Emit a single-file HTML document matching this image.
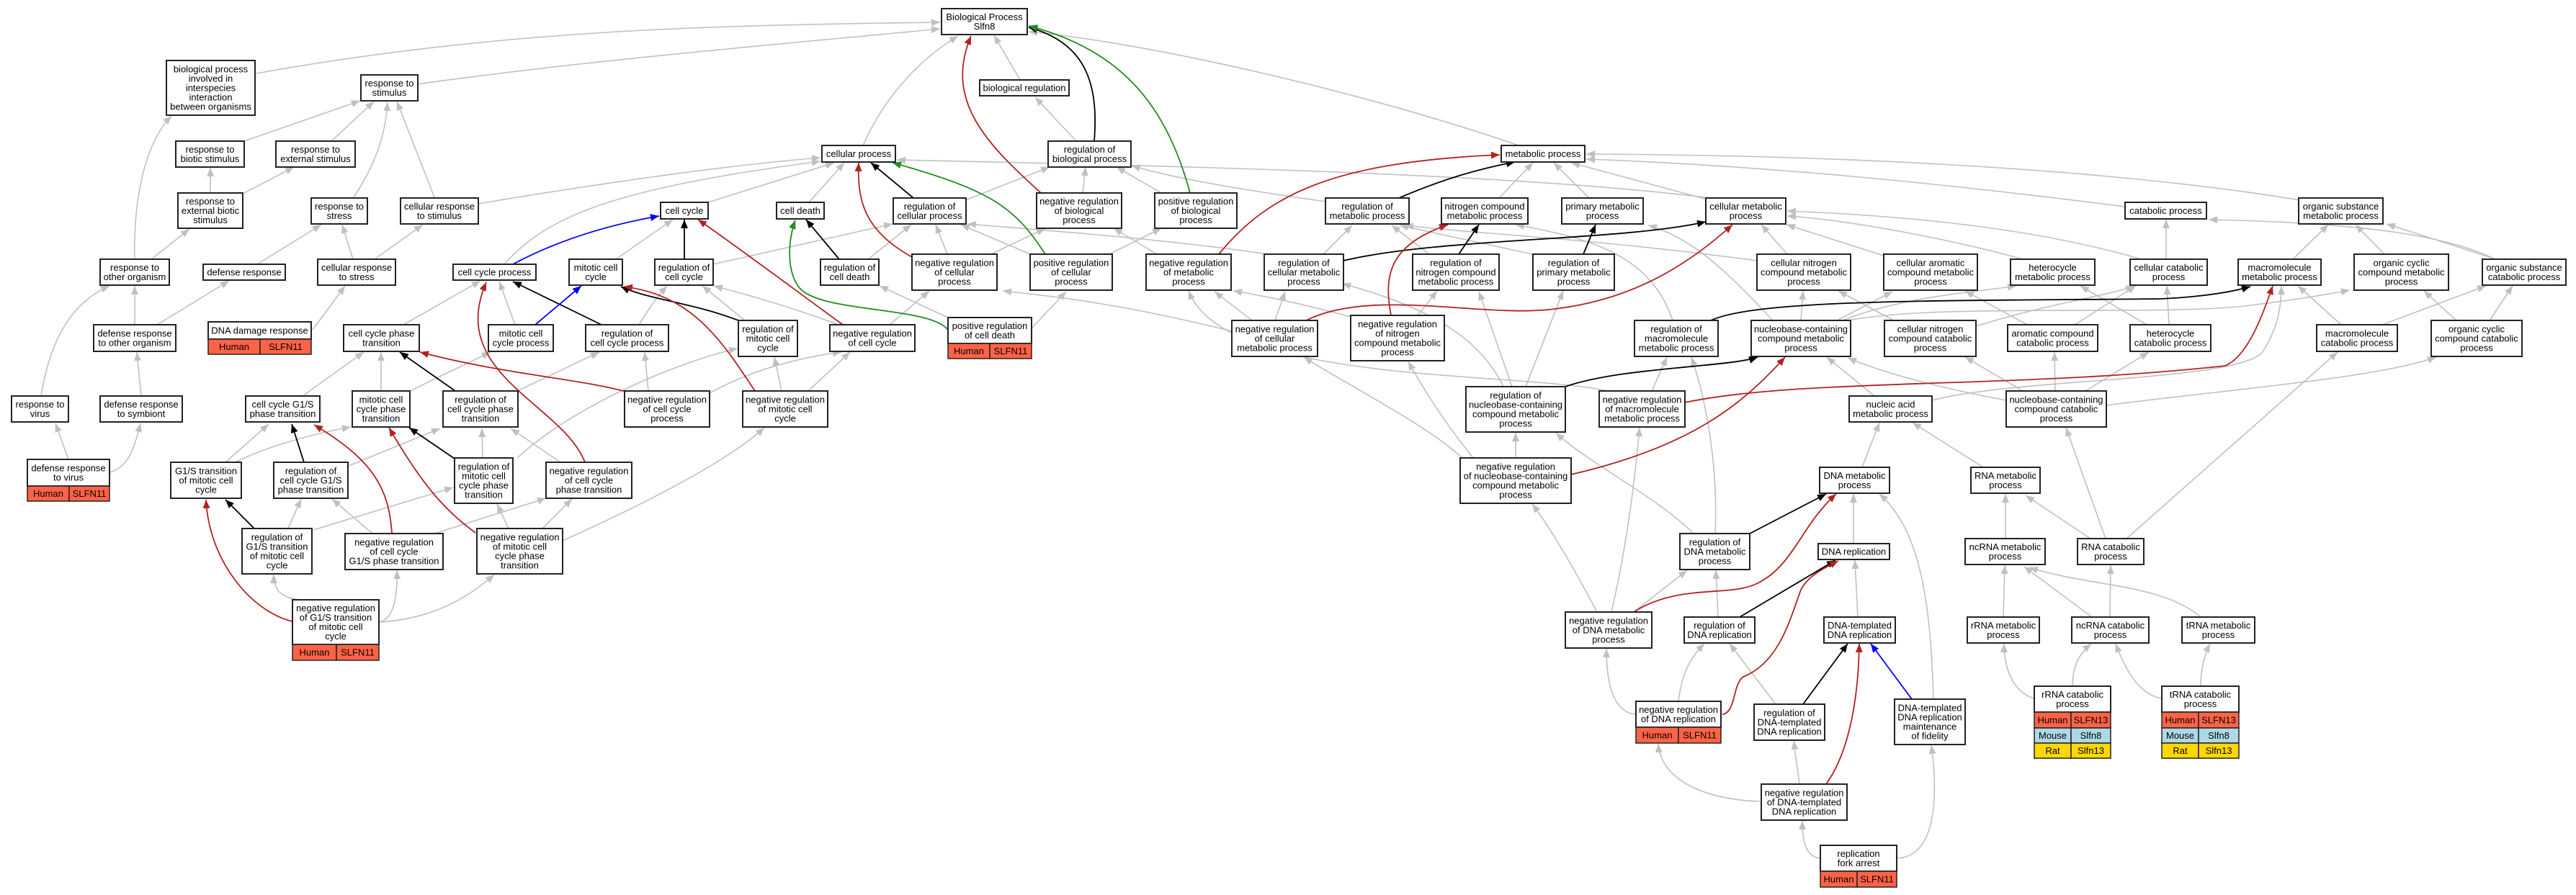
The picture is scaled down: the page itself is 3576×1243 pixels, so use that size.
<!DOCTYPE html>
<html><head><meta charset="utf-8"><style>
html,body{margin:0;padding:0;background:#fff;}
svg{display:block;}
text{font-family:"Liberation Sans",Arial,sans-serif;font-size:13px;fill:#000;text-anchor:middle;}
.e{fill:none;stroke:#c0c0c0;stroke-width:1.6;}
.k{fill:none;stroke:#000;stroke-width:1.8;}
.r{fill:none;stroke:#b22222;stroke-width:1.8;}
.n{fill:none;stroke:#228b22;stroke-width:1.8;}
.b{fill:none;stroke:#0000ff;stroke-width:1.8;}
.nd{fill:#fff;stroke:#222;stroke-width:2;}
.hu{fill:#ff6347;stroke:#222;stroke-width:1.5;}
.mo{fill:#add8e6;stroke:#222;stroke-width:1.5;}
.ra{fill:#ffd700;stroke:#222;stroke-width:1.5;}
</style></head><body>
<svg width="3576" height="1243" viewBox="0 0 3576 1243" xmlns="http://www.w3.org/2000/svg">
<defs>
<marker id="mg" viewBox="0 0 12 10" refX="12" refY="5" markerWidth="12" markerHeight="10" markerUnits="userSpaceOnUse" orient="auto"><path d="M0,0L12,5L0,10z" fill="#c0c0c0"/></marker>
<marker id="mk" viewBox="0 0 12 10" refX="12" refY="5" markerWidth="12" markerHeight="10" markerUnits="userSpaceOnUse" orient="auto"><path d="M0,0L12,5L0,10z" fill="#000"/></marker>
<marker id="mr" viewBox="0 0 12 10" refX="12" refY="5" markerWidth="12" markerHeight="10" markerUnits="userSpaceOnUse" orient="auto"><path d="M0,0L12,5L0,10z" fill="#b22222"/></marker>
<marker id="mn" viewBox="0 0 12 10" refX="12" refY="5" markerWidth="12" markerHeight="10" markerUnits="userSpaceOnUse" orient="auto"><path d="M0,0L12,5L0,10z" fill="#228b22"/></marker>
<marker id="mb" viewBox="0 0 12 10" refX="12" refY="5" markerWidth="12" markerHeight="10" markerUnits="userSpaceOnUse" orient="auto"><path d="M0,0L12,5L0,10z" fill="#0000ff"/></marker>
</defs>

<!-- gray edges -->
<g class="e" marker-end="url(#mg)">
<path d="M356,102 C700,40 1000,35 1305,31"/>
<path d="M580,117 C800,85 1100,60 1305,40"/>
<path d="M339,196 L500,140"/>
<path d="M460,196 L519,141"/>
<path d="M491,274 C520,230 535,190 538,142"/>
<path d="M603,274 L551,141"/>
<path d="M292,268 L292,233"/>
<path d="M339,268 L408,232"/>
<path d="M187,360 C185,280 200,200 238,161"/>
<path d="M210,360 L263,318"/>
<path d="M357,367 L446,312"/>
<path d="M490,360 L475,312"/>
<path d="M520,360 L587,312"/>
<path d="M664,283 C800,260 1000,230 1139,219"/>
<path d="M700,367 C760,300 850,262 1139,224"/>
<path d="M855,360 L934,305"/>
<path d="M560,451 L667,390"/>
<path d="M715,451 L693,391"/>
<path d="M420,550 L505,489"/>
<path d="M529,543 L529,489"/>
<path d="M569,543 L681,489"/>
<path d="M718,543 L832,489"/>
<path d="M887,451 C900,430 910,415 926,397"/>
<path d="M900,543 L895,489"/>
<path d="M985,546 C1050,510 1120,495 1168,489"/>
<path d="M718,636 C800,560 950,500 1024,484"/>
<path d="M781,751 C850,720 1000,650 1061,594"/>
<path d="M1198,202 C1230,130 1280,80 1330,50"/>
<path d="M1416,111 L1380,49"/>
<path d="M2108,202 C1900,130 1600,60 1428,44"/>
<path d="M1494,196 L1437,135"/>
<path d="M983,281 L1158,226"/>
<path d="M1123,281 L1172,226"/>
<path d="M2374,275 C2100,240 1600,230 1245,222"/>
<path d="M990,367 L1239,311"/>
<path d="M1205,360 L1265,312"/>
<path d="M1315,353 L1299,312"/>
<path d="M1430,353 L1334,312"/>
<path d="M1340,278 L1457,232"/>
<path d="M1503,268 L1507,232"/>
<path d="M1612,268 L1550,232"/>
<path d="M1840,280 C1700,260 1620,245 1571,230"/>
<path d="M1376,353 L1451,317"/>
<path d="M1606,353 L1546,317"/>
<path d="M1540,353 L1612,317"/>
<path d="M1760,353 C1600,330 1450,320 1343,311"/>
<path d="M1034,445 L975,397"/>
<path d="M1164,451 C1080,420 1020,405 991,397"/>
<path d="M1085,543 L1075,496"/>
<path d="M1122,543 L1180,489"/>
<path d="M1235,451 L1290,404"/>
<path d="M1710,460 C1550,420 1450,410 1392,404"/>
<path d="M1432,456 L1480,405"/>
<path d="M1316,441 L1221,397"/>
<path d="M2233,543 C2100,515 1700,535 1650,404"/>
<path d="M1738,445 L1686,405"/>
<path d="M1875,440 C1800,420 1750,410 1712,404"/>
<path d="M1770,445 L1784,405"/>
<path d="M2081,275 L2128,226"/>
<path d="M2206,275 L2157,226"/>
<path d="M2370,277 L2181,226"/>
<path d="M3193,278 C2900,230 2500,215 2202,214"/>
<path d="M2950,287 C2700,255 2450,230 2202,221"/>
<path d="M2481,353 L2445,312"/>
<path d="M2615,355 L2480,312"/>
<path d="M2808,360 C2700,330 2560,305 2481,300"/>
<path d="M2969,359 C2800,310 2600,298 2481,293"/>
<path d="M1984,353 L1932,313"/>
<path d="M2127,353 L1943,313"/>
<path d="M1837,353 L1877,313"/>
<path d="M2322,445 C2290,350 2200,330 2104,312"/>
<path d="M2439,362 C2200,330 2050,325 1950,313"/>
<path d="M2099,537 L2053,405"/>
<path d="M1968,438 L1995,404"/>
<path d="M2118,537 L2170,404"/>
<path d="M2087,537 C2060,480 2000,430 1863,394"/>
<path d="M2602,550 L2536,496"/>
<path d="M2293,543 L2314,496"/>
<path d="M2381,741 C2385,650 2370,560 2348,496"/>
<path d="M2500,445 L2503,404"/>
<path d="M2552,444 L2627,405"/>
<path d="M2627,444 L2552,404"/>
<path d="M2460,444 C2400,380 2350,330 2288,313"/>
<path d="M2585,649 L2609,587"/>
<path d="M2753,649 L2655,587"/>
<path d="M3007,360 L3007,305"/>
<path d="M3462,359 C3400,330 3300,310 3066,305"/>
<path d="M3183,360 L3232,312"/>
<path d="M3310,353 L3270,312"/>
<path d="M3462,359 L3313,311"/>
<path d="M2560,444 C2650,410 2750,405 2799,397"/>
<path d="M2980,451 L2888,397"/>
<path d="M3011,451 L3008,397"/>
<path d="M2880,451 L2965,397"/>
<path d="M2743,453 C2850,420 2930,410 2963,397"/>
<path d="M3250,451 L3190,397"/>
<path d="M2682,556 C2800,525 3100,530 3140,490 C3160,460 3167,430 3167,397"/>
<path d="M2565,445 C2700,420 3000,440 3124,424 C3200,415 3240,407 3262,403"/>
<path d="M3410,445 L3365,404"/>
<path d="M3307,451 L3451,397"/>
<path d="M3456,445 L3488,397"/>
<path d="M2808,543 L2728,496"/>
<path d="M2853,543 L2852,489"/>
<path d="M2895,543 L2983,489"/>
<path d="M2814,451 L2728,404"/>
<path d="M2924,563 C3100,540 3300,525 3382,496"/>
<path d="M2785,556 C2700,540 2620,520 2565,497"/>
<path d="M2952,748 L3245,489"/>
<path d="M2923,748 L2868,594"/>
<path d="M2784,748 L2784,686"/>
<path d="M2902,748 L2812,688"/>
<path d="M2781,857 L2783,785"/>
<path d="M2904,857 L2810,787"/>
<path d="M3055,857 C3000,810 2900,815 2817,788"/>
<path d="M2929,857 L2930,785"/>
<path d="M2824,970 C2790,960 2782,920 2782,894"/>
<path d="M2877,953 C2877,920 2890,905 2903,894"/>
<path d="M3001,970 C2970,965 2950,930 2937,894"/>
<path d="M3055,953 C3055,930 3060,910 3068,894"/>
<path d="M2104,636 L2104,601"/>
<path d="M2045,636 C2000,580 1970,530 1955,502"/>
<path d="M2030,636 C1980,590 1880,540 1810,496"/>
<path d="M2573,755 L2573,686"/>
<path d="M2684,970 C2680,850 2670,740 2609,686"/>
<path d="M2268,850 L2342,792"/>
<path d="M2385,857 L2382,792"/>
<path d="M2351,741 C2300,690 2200,640 2160,601"/>
<path d="M2217,850 C2180,780 2150,730 2127,700"/>
<path d="M2237,850 C2260,750 2270,660 2276,594"/>
<path d="M2579,857 L2575,778"/>
<path d="M2330,974 C2335,930 2350,910 2366,894"/>
<path d="M2465,978 L2401,894"/>
<path d="M2271,992 C2240,990 2230,950 2230,901"/>
<path d="M2443,1113 C2360,1110 2305,1080 2302,1033"/>
<path d="M2498,1089 L2490,1029"/>
<path d="M2527,1192 C2505,1190 2502,1165 2502,1140"/>
<path d="M2633,1192 C2690,1190 2690,1100 2681,1035"/>
<path d="M95,638 L77,588"/>
<path d="M152,656 C175,650 185,630 195,588"/>
<path d="M57,550 C70,470 100,420 152,397"/>
<path d="M196,550 L190,489"/>
<path d="M187,451 L187,397"/>
<path d="M218,451 L318,390"/>
<path d="M434,458 L479,397"/>
<path d="M313,642 L373,589"/>
<path d="M327,642 C360,625 420,605 487,593"/>
<path d="M484,647 L611,595"/>
<path d="M670,636 L669,595"/>
<path d="M778,642 L709,595"/>
<path d="M400,734 L418,693"/>
<path d="M517,741 L461,693"/>
<path d="M435,736 L629,677"/>
<path d="M706,734 L690,700"/>
<path d="M603,741 L758,692"/>
<path d="M753,734 L794,693"/>
<path d="M416,833 C390,830 380,820 380,798"/>
<path d="M526,864 C545,860 552,835 551,792"/>
<path d="M526,864 C600,860 650,830 686,798"/>
</g>

<!-- black edges -->
<g class="k" marker-end="url(#mk)">
<path d="M1025,445 C960,420 900,416 862,398"/>
<path d="M835,451 L712,391"/>
<path d="M632,543 L555,489"/>
<path d="M1519,196 C1525,120 1510,60 1428,38"/>
<path d="M1268,275 L1209,226"/>
<path d="M950,360 L950,305"/>
<path d="M1165,360 L1119,305"/>
<path d="M1942,275 C2000,250 2050,235 2103,225"/>
<path d="M2025,353 L2053,312"/>
<path d="M2198,353 L2215,312"/>
<path d="M1865,362 C2000,330 2250,335 2368,308"/>
<path d="M2173,537 C2250,510 2400,510 2440,496"/>
<path d="M2375,445 C2440,415 2700,418 3000,415 C3060,412 3100,405 3124,398"/>
<path d="M2429,741 L2535,686"/>
<path d="M2415,857 L2548,778"/>
<path d="M2503,978 L2565,894"/>
<path d="M353,734 L313,694"/>
<path d="M422,642 L405,589"/>
<path d="M631,637 L568,594"/>
</g>

<!-- red edges -->
<g class="r" marker-end="url(#mr)">
<path d="M1048,543 C1000,470 960,410 866,398"/>
<path d="M812,642 C780,560 620,520 675,392"/>
<path d="M873,545 C800,525 700,520 583,489"/>
<path d="M1445,268 C1370,200 1310,140 1348,50"/>
<path d="M1266,357 C1200,320 1190,280 1192,226"/>
<path d="M1170,451 C1100,400 1020,340 969,305"/>
<path d="M1692,353 C1760,270 1850,225 2082,215"/>
<path d="M1931,438 C1920,380 1930,340 2010,312"/>
<path d="M1811,446 C1900,400 2050,440 2150,430 C2250,420 2330,380 2405,312"/>
<path d="M2181,659 C2350,620 2420,560 2478,496"/>
<path d="M2339,559 C2500,525 2800,540 3089,508 C3120,495 3140,440 3155,397"/>
<path d="M2268,850 C2330,810 2400,830 2440,810 C2490,785 2500,730 2549,686"/>
<path d="M2391,992 C2410,990 2405,950 2420,940 C2470,920 2485,860 2500,819 C2510,800 2530,790 2552,779"/>
<path d="M2535,1089 C2570,1040 2580,960 2581,894"/>
<path d="M544,741 C540,680 520,640 436,590"/>
<path d="M660,740 C620,710 590,680 540,594"/>
<path d="M406,863 C350,850 290,780 286,694"/>
</g>

<!-- green edges -->
<g class="n" marker-end="url(#mn)">
<path d="M1652,268 C1620,150 1560,70 1428,36"/>
<path d="M1451,353 C1410,290 1380,265 1239,226"/>
<path d="M1316,458 C1290,425 1140,435 1110,400 C1090,375 1095,330 1104,306"/>
</g>

<!-- blue edges -->
<g class="b" marker-end="url(#mb)">
<path d="M712,367 Q800,320 915,300"/>
<path d="M743,451 L807,397"/>
<path d="M2654,971 L2597,894"/>
</g>

<!-- nodes -->
<g>
<rect class="nd" x="1307" y="12" width="119" height="36"/><text x="1366.5" y="28">Biological Process<tspan x="1366.5" dy="13">Slfn8</tspan></text>
<rect class="nd" x="231" y="84" width="123" height="76"/><text x="292.5" y="100.5">biological process<tspan x="292.5" dy="13">involved in</tspan><tspan x="292.5" dy="13">interspecies</tspan><tspan x="292.5" dy="13">interaction</tspan><tspan x="292.5" dy="13">between organisms</tspan></text>
<rect class="nd" x="501" y="104" width="79" height="36"/><text x="540.5" y="120">response to<tspan x="540.5" dy="13">stimulus</tspan></text>
<rect class="nd" x="244" y="196" width="95" height="36"/><text x="291.5" y="212">response to<tspan x="291.5" dy="13">biotic stimulus</tspan></text>
<rect class="nd" x="383" y="196" width="110" height="36"/><text x="438" y="212">response to<tspan x="438" dy="13">external stimulus</tspan></text>
<rect class="nd" x="247" y="268" width="90" height="49"/><text x="292" y="284">response to<tspan x="292" dy="13">external biotic</tspan><tspan x="292" dy="13">stimulus</tspan></text>
<rect class="nd" x="432" y="275" width="78" height="36"/><text x="471" y="291">response to<tspan x="471" dy="13">stress</tspan></text>
<rect class="nd" x="556" y="275" width="108" height="36"/><text x="610" y="291">cellular response<tspan x="610" dy="13">to stimulus</tspan></text>
<rect class="nd" x="139" y="360" width="96" height="36"/><text x="187" y="376">response to<tspan x="187" dy="13">other organism</tspan></text>
<rect class="nd" x="282" y="367" width="114" height="22"/><text x="339" y="382.5">defense response</text>
<rect class="nd" x="441" y="360" width="108" height="36"/><text x="495" y="376">cellular response<tspan x="495" dy="13">to stress</tspan></text>
<rect class="nd" x="629" y="367" width="115" height="22"/><text x="686.5" y="382.5">cell cycle process</text>
<rect class="nd" x="790" y="360" width="74" height="36"/><text x="827" y="376">mitotic cell<tspan x="827" dy="13">cycle</tspan></text>
<rect class="nd" x="130" y="451" width="114" height="37"/><text x="187" y="467.5">defense response<tspan x="187" dy="13">to other organism</tspan></text>

<rect class="nd" x="289" y="447" width="143" height="24"/><text x="360.5" y="463.5">DNA damage response</text>
<rect class="hu" x="289" y="471" width="72" height="21"/><rect class="hu" x="361" y="471" width="71" height="21"/><text x="325" y="486">Human</text><text x="396.5" y="486">SLFN11</text>

<rect class="nd" x="477" y="451" width="105" height="37"/><text x="529.5" y="467.5">cell cycle phase<tspan x="529.5" dy="13">transition</tspan></text>
<rect class="nd" x="678" y="451" width="90" height="37"/><text x="723" y="467.5">mitotic cell<tspan x="723" dy="13">cycle process</tspan></text>
<rect class="nd" x="813" y="451" width="115" height="37"/><text x="870.5" y="467.5">regulation of<tspan x="870.5" dy="13">cell cycle process</tspan></text>
<rect class="nd" x="16" y="550" width="79" height="36"/><text x="55.5" y="566">response to<tspan x="55.5" dy="13">virus</tspan></text>
<rect class="nd" x="139" y="550" width="114" height="36"/><text x="196" y="566">defense response<tspan x="196" dy="13">to symbiont</tspan></text>
<rect class="nd" x="341" y="550" width="103" height="36"/><text x="392.5" y="566">cell cycle G1/S<tspan x="392.5" dy="13">phase transition</tspan></text>
<rect class="nd" x="489" y="543" width="80" height="50"/><text x="529" y="559.5">mitotic cell<tspan x="529" dy="13">cycle phase</tspan><tspan x="529" dy="13">transition</tspan></text>
<rect class="nd" x="615" y="543" width="104" height="50"/><text x="667" y="559.5">regulation of<tspan x="667" dy="13">cell cycle phase</tspan><tspan x="667" dy="13">transition</tspan></text>
<rect class="nd" x="867" y="543" width="118" height="50"/><text x="926" y="559.5">negative regulation<tspan x="926" dy="13">of cell cycle</tspan><tspan x="926" dy="13">process</tspan></text>

<rect class="nd" x="1360" y="111" width="124" height="22"/><text x="1422" y="126.5">biological regulation</text>
<rect class="nd" x="1141" y="202" width="102" height="23"/><text x="1192" y="218">cellular process</text>
<rect class="nd" x="1455" y="196" width="115" height="36"/><text x="1512.5" y="212">regulation of<tspan x="1512.5" dy="13">biological process</tspan></text>
<rect class="nd" x="917" y="281" width="66" height="23"/><text x="950" y="297">cell cycle</text>
<rect class="nd" x="1078" y="281" width="66" height="23"/><text x="1111" y="297">cell death</text>
<rect class="nd" x="1240" y="275" width="101" height="36"/><text x="1290.5" y="291">regulation of<tspan x="1290.5" dy="13">cellular process</tspan></text>
<rect class="nd" x="1439" y="268" width="118" height="49"/><text x="1498" y="284">negative regulation<tspan x="1498" dy="13">of biological</tspan><tspan x="1498" dy="13">process</tspan></text>
<rect class="nd" x="1603" y="268" width="114" height="49"/><text x="1660" y="284">positive regulation<tspan x="1660" dy="13">of biological</tspan><tspan x="1660" dy="13">process</tspan></text>
<rect class="nd" x="909" y="360" width="81" height="36"/><text x="949.5" y="376">regulation of<tspan x="949.5" dy="13">cell cycle</tspan></text>
<rect class="nd" x="1139" y="360" width="81" height="36"/><text x="1179.5" y="376">regulation of<tspan x="1179.5" dy="13">cell death</tspan></text>
<rect class="nd" x="1266" y="353" width="118" height="50"/><text x="1325" y="369.5">negative regulation<tspan x="1325" dy="13">of cellular</tspan><tspan x="1325" dy="13">process</tspan></text>
<rect class="nd" x="1430" y="353" width="114" height="50"/><text x="1487" y="369.5">positive regulation<tspan x="1487" dy="13">of cellular</tspan><tspan x="1487" dy="13">process</tspan></text>
<rect class="nd" x="1591" y="353" width="118" height="50"/><text x="1650" y="369.5">negative regulation<tspan x="1650" dy="13">of metabolic</tspan><tspan x="1650" dy="13">process</tspan></text>
<rect class="nd" x="1755" y="353" width="110" height="50"/><text x="1810" y="369.5">regulation of<tspan x="1810" dy="13">cellular metabolic</tspan><tspan x="1810" dy="13">process</tspan></text>
<rect class="nd" x="1025" y="445" width="82" height="50"/><text x="1066" y="461.5">regulation of<tspan x="1066" dy="13">mitotic cell</tspan><tspan x="1066" dy="13">cycle</tspan></text>
<rect class="nd" x="1152" y="451" width="118" height="37"/><text x="1211" y="467.5">negative regulation<tspan x="1211" dy="13">of cell cycle</tspan></text>

<rect class="nd" x="1316" y="441" width="116" height="36"/><text x="1374" y="457">positive regulation<tspan x="1374" dy="13">of cell death</tspan></text>
<rect class="hu" x="1316" y="477" width="58" height="21"/><rect class="hu" x="1374" y="477" width="58" height="21"/><text x="1345" y="492">Human</text><text x="1403" y="492">SLFN11</text>

<rect class="nd" x="1710" y="445" width="119" height="50"/><text x="1769.5" y="461.5">negative regulation<tspan x="1769.5" dy="13">of cellular</tspan><tspan x="1769.5" dy="13">metabolic process</tspan></text>
<rect class="nd" x="1031" y="543" width="118" height="50"/><text x="1090" y="559.5">negative regulation<tspan x="1090" dy="13">of mitotic cell</tspan><tspan x="1090" dy="13">cycle</tspan></text>

<rect class="nd" x="2084" y="202" width="116" height="23"/><text x="2142" y="218">metabolic process</text>
<rect class="nd" x="1840" y="275" width="116" height="36"/><text x="1898" y="291">regulation of<tspan x="1898" dy="13">metabolic process</tspan></text>
<rect class="nd" x="2001" y="275" width="120" height="36"/><text x="2061" y="291">nitrogen compound<tspan x="2061" dy="13">metabolic process</tspan></text>
<rect class="nd" x="2168" y="275" width="113" height="36"/><text x="2224.5" y="291">primary metabolic<tspan x="2224.5" dy="13">process</tspan></text>
<rect class="nd" x="2368" y="275" width="111" height="36"/><text x="2423.5" y="291">cellular metabolic<tspan x="2423.5" dy="13">process</tspan></text>
<rect class="nd" x="1961" y="353" width="120" height="50"/><text x="2021" y="369.5">regulation of<tspan x="2021" dy="13">nitrogen compound</tspan><tspan x="2021" dy="13">metabolic process</tspan></text>
<rect class="nd" x="2128" y="353" width="113" height="50"/><text x="2184.5" y="369.5">regulation of<tspan x="2184.5" dy="13">primary metabolic</tspan><tspan x="2184.5" dy="13">process</tspan></text>
<rect class="nd" x="2439" y="353" width="130" height="50"/><text x="2504" y="369.5">cellular nitrogen<tspan x="2504" dy="13">compound metabolic</tspan><tspan x="2504" dy="13">process</tspan></text>
<rect class="nd" x="2615" y="353" width="130" height="50"/><text x="2680" y="369.5">cellular aromatic<tspan x="2680" dy="13">compound metabolic</tspan><tspan x="2680" dy="13">process</tspan></text>
<rect class="nd" x="1875" y="438" width="130" height="63"/><text x="1940" y="454.5">negative regulation<tspan x="1940" dy="13">of nitrogen</tspan><tspan x="1940" dy="13">compound metabolic</tspan><tspan x="1940" dy="13">process</tspan></text>
<rect class="nd" x="2269" y="445" width="116" height="50"/><text x="2327" y="461.5">regulation of<tspan x="2327" dy="13">macromolecule</tspan><tspan x="2327" dy="13">metabolic process</tspan></text>
<rect class="nd" x="2431" y="445" width="138" height="50"/><text x="2500" y="461.5">nucleobase-containing<tspan x="2500" dy="13">compound metabolic</tspan><tspan x="2500" dy="13">process</tspan></text>
<rect class="nd" x="2616" y="445" width="127" height="50"/><text x="2679.5" y="461.5">cellular nitrogen<tspan x="2679.5" dy="13">compound catabolic</tspan><tspan x="2679.5" dy="13">process</tspan></text>
<rect class="nd" x="2035" y="537" width="138" height="63"/><text x="2104" y="553.5">regulation of<tspan x="2104" dy="13">nucleobase-containing</tspan><tspan x="2104" dy="13">compound metabolic</tspan><tspan x="2104" dy="13">process</tspan></text>
<rect class="nd" x="2220" y="543" width="119" height="50"/><text x="2279.5" y="559.5">negative regulation<tspan x="2279.5" dy="13">of macromolecule</tspan><tspan x="2279.5" dy="13">metabolic process</tspan></text>
<rect class="nd" x="2567" y="550" width="115" height="36"/><text x="2624.5" y="566">nucleic acid<tspan x="2624.5" dy="13">metabolic process</tspan></text>

<rect class="nd" x="2950" y="281" width="113" height="23"/><text x="3006.5" y="297">catabolic process</text>
<rect class="nd" x="3191" y="275" width="117" height="36"/><text x="3249.5" y="291">organic substance<tspan x="3249.5" dy="13">metabolic process</tspan></text>
<rect class="nd" x="2791" y="360" width="117" height="36"/><text x="2849.5" y="376">heterocycle<tspan x="2849.5" dy="13">metabolic process</tspan></text>
<rect class="nd" x="2957" y="360" width="107" height="36"/><text x="3010.5" y="376">cellular catabolic<tspan x="3010.5" dy="13">process</tspan></text>
<rect class="nd" x="3107" y="360" width="115" height="36"/><text x="3164.5" y="376">macromolecule<tspan x="3164.5" dy="13">metabolic process</tspan></text>
<rect class="nd" x="3268" y="353" width="131" height="50"/><text x="3333.5" y="369.5">organic cyclic<tspan x="3333.5" dy="13">compound metabolic</tspan><tspan x="3333.5" dy="13">process</tspan></text>
<rect class="nd" x="3446" y="360" width="116" height="36"/><text x="3504" y="376">organic substance<tspan x="3504" dy="13">catabolic process</tspan></text>
<rect class="nd" x="2787" y="451" width="125" height="37"/><text x="2849.5" y="467.5">aromatic compound<tspan x="2849.5" dy="13">catabolic process</tspan></text>
<rect class="nd" x="2957" y="451" width="112" height="37"/><text x="3013" y="467.5">heterocycle<tspan x="3013" dy="13">catabolic process</tspan></text>
<rect class="nd" x="3216" y="451" width="112" height="37"/><text x="3272" y="467.5">macromolecule<tspan x="3272" dy="13">catabolic process</tspan></text>
<rect class="nd" x="3375" y="445" width="126" height="50"/><text x="3438" y="461.5">organic cyclic<tspan x="3438" dy="13">compound catabolic</tspan><tspan x="3438" dy="13">process</tspan></text>
<rect class="nd" x="2785" y="543" width="139" height="50"/><text x="2854.5" y="559.5">nucleobase-containing<tspan x="2854.5" dy="13">compound catabolic</tspan><tspan x="2854.5" dy="13">process</tspan></text>

<rect class="nd" x="38" y="638" width="114" height="37"/><text x="95" y="654.5">defense response<tspan x="95" dy="13">to virus</tspan></text>
<rect class="hu" x="38" y="675" width="58" height="21"/><rect class="hu" x="96" y="675" width="56" height="21"/><text x="67" y="690">Human</text><text x="124" y="690">SLFN11</text>

<rect class="nd" x="237" y="642" width="98" height="50"/><text x="286" y="658.5">G1/S transition<tspan x="286" dy="13">of mitotic cell</tspan><tspan x="286" dy="13">cycle</tspan></text>
<rect class="nd" x="380" y="642" width="103" height="50"/><text x="431.5" y="658.5">regulation of<tspan x="431.5" dy="13">cell cycle G1/S</tspan><tspan x="431.5" dy="13">phase transition</tspan></text>
<rect class="nd" x="631" y="636" width="81" height="63"/><text x="671.5" y="652.5">regulation of<tspan x="671.5" dy="13">mitotic cell</tspan><tspan x="671.5" dy="13">cycle phase</tspan><tspan x="671.5" dy="13">transition</tspan></text>
<rect class="nd" x="758" y="642" width="119" height="50"/><text x="817.5" y="658.5">negative regulation<tspan x="817.5" dy="13">of cell cycle</tspan><tspan x="817.5" dy="13">phase transition</tspan></text>
<rect class="nd" x="336" y="734" width="97" height="63"/><text x="384.5" y="750.5">regulation of<tspan x="384.5" dy="13">G1/S transition</tspan><tspan x="384.5" dy="13">of mitotic cell</tspan><tspan x="384.5" dy="13">cycle</tspan></text>
<rect class="nd" x="479" y="741" width="136" height="50"/><text x="547" y="757.5">negative regulation<tspan x="547" dy="13">of cell cycle</tspan><tspan x="547" dy="13">G1/S phase transition</tspan></text>
<rect class="nd" x="662" y="734" width="119" height="63"/><text x="721.5" y="750.5">negative regulation<tspan x="721.5" dy="13">of mitotic cell</tspan><tspan x="721.5" dy="13">cycle phase</tspan><tspan x="721.5" dy="13">transition</tspan></text>

<rect class="nd" x="406" y="833" width="120" height="62"/><text x="466" y="849">negative regulation<tspan x="466" dy="13">of G1/S transition</tspan><tspan x="466" dy="13">of mitotic cell</tspan><tspan x="466" dy="13">cycle</tspan></text>
<rect class="hu" x="406" y="895" width="61" height="22"/><rect class="hu" x="467" y="895" width="59" height="22"/><text x="436.5" y="910.5">Human</text><text x="496.5" y="910.5">SLFN11</text>

<rect class="nd" x="2027" y="636" width="154" height="63"/><text x="2104" y="652.5">negative regulation<tspan x="2104" dy="13">of nucleobase-containing</tspan><tspan x="2104" dy="13">compound metabolic</tspan><tspan x="2104" dy="13">process</tspan></text>
<rect class="nd" x="2526" y="649" width="97" height="36"/><text x="2574.5" y="665">DNA metabolic<tspan x="2574.5" dy="13">process</tspan></text>
<rect class="nd" x="2332" y="741" width="97" height="50"/><text x="2380.5" y="757.5">regulation of<tspan x="2380.5" dy="13">DNA metabolic</tspan><tspan x="2380.5" dy="13">process</tspan></text>
<rect class="nd" x="2524" y="755" width="99" height="22"/><text x="2573.5" y="770.5">DNA replication</text>
<rect class="nd" x="2173" y="850" width="120" height="50"/><text x="2233" y="866.5">negative regulation<tspan x="2233" dy="13">of DNA metabolic</tspan><tspan x="2233" dy="13">process</tspan></text>
<rect class="nd" x="2338" y="857" width="98" height="36"/><text x="2387" y="873">regulation of<tspan x="2387" dy="13">DNA replication</tspan></text>
<rect class="nd" x="2532" y="857" width="99" height="36"/><text x="2581.5" y="873">DNA-templated<tspan x="2581.5" dy="13">DNA replication</tspan></text>

<rect class="nd" x="2271" y="974" width="118" height="36"/><text x="2330" y="990">negative regulation<tspan x="2330" dy="13">of DNA replication</tspan></text>
<rect class="hu" x="2271" y="1010" width="59" height="22"/><rect class="hu" x="2330" y="1010" width="59" height="22"/><text x="2300.5" y="1025.5">Human</text><text x="2359.5" y="1025.5">SLFN11</text>

<rect class="nd" x="2435" y="978" width="98" height="50"/><text x="2484" y="994.5">regulation of<tspan x="2484" dy="13">DNA-templated</tspan><tspan x="2484" dy="13">DNA replication</tspan></text>
<rect class="nd" x="2630" y="971" width="98" height="63"/><text x="2679" y="987.5">DNA-templated<tspan x="2679" dy="13">DNA replication</tspan><tspan x="2679" dy="13">maintenance</tspan><tspan x="2679" dy="13">of fidelity</tspan></text>
<rect class="nd" x="2445" y="1089" width="119" height="50"/><text x="2504.5" y="1105.5">negative regulation<tspan x="2504.5" dy="13">of DNA-templated</tspan><tspan x="2504.5" dy="13">DNA replication</tspan></text>

<rect class="nd" x="2527" y="1174" width="106" height="36"/><text x="2580" y="1190">replication<tspan x="2580" dy="13">fork arrest</tspan></text>
<rect class="hu" x="2527" y="1210" width="51" height="22"/><rect class="hu" x="2578" y="1210" width="55" height="22"/><text x="2552.5" y="1225.5">Human</text><text x="2605.5" y="1225.5">SLFN11</text>

<rect class="nd" x="2736" y="649" width="96" height="36"/><text x="2784" y="665">RNA metabolic<tspan x="2784" dy="13">process</tspan></text>
<rect class="nd" x="2728" y="748" width="111" height="36"/><text x="2783.5" y="764">ncRNA metabolic<tspan x="2783.5" dy="13">process</tspan></text>
<rect class="nd" x="2884" y="748" width="92" height="36"/><text x="2930" y="764">RNA catabolic<tspan x="2930" dy="13">process</tspan></text>
<rect class="nd" x="2731" y="857" width="100" height="36"/><text x="2781" y="873">rRNA metabolic<tspan x="2781" dy="13">process</tspan></text>
<rect class="nd" x="2876" y="857" width="107" height="36"/><text x="2929.5" y="873">ncRNA catabolic<tspan x="2929.5" dy="13">process</tspan></text>
<rect class="nd" x="3029" y="857" width="101" height="36"/><text x="3079.5" y="873">tRNA metabolic<tspan x="3079.5" dy="13">process</tspan></text>

<rect class="nd" x="2824" y="953" width="106" height="36"/><text x="2877" y="969">rRNA catabolic<tspan x="2877" dy="13">process</tspan></text>
<rect class="hu" x="2824" y="989" width="51" height="22"/><rect class="hu" x="2875" y="989" width="55" height="22"/>
<rect class="mo" x="2824" y="1011" width="51" height="21"/><rect class="mo" x="2875" y="1011" width="55" height="21"/>
<rect class="ra" x="2824" y="1032" width="51" height="21"/><rect class="ra" x="2875" y="1032" width="55" height="21"/>
<text x="2849.5" y="1004.5">Human</text><text x="2902.5" y="1004.5">SLFN13</text>
<text x="2849.5" y="1026">Mouse</text><text x="2902.5" y="1026">Slfn8</text>
<text x="2849.5" y="1047">Rat</text><text x="2902.5" y="1047">Slfn13</text>

<rect class="nd" x="3001" y="953" width="107" height="36"/><text x="3054.5" y="969">tRNA catabolic<tspan x="3054.5" dy="13">process</tspan></text>
<rect class="hu" x="3001" y="989" width="51" height="22"/><rect class="hu" x="3052" y="989" width="56" height="22"/>
<rect class="mo" x="3001" y="1011" width="51" height="21"/><rect class="mo" x="3052" y="1011" width="56" height="21"/>
<rect class="ra" x="3001" y="1032" width="51" height="21"/><rect class="ra" x="3052" y="1032" width="56" height="21"/>
<text x="3026.5" y="1004.5">Human</text><text x="3080" y="1004.5">SLFN13</text>
<text x="3026.5" y="1026">Mouse</text><text x="3080" y="1026">Slfn8</text>
<text x="3026.5" y="1047">Rat</text><text x="3080" y="1047">Slfn13</text>
</g>
</svg>
</body></html>
